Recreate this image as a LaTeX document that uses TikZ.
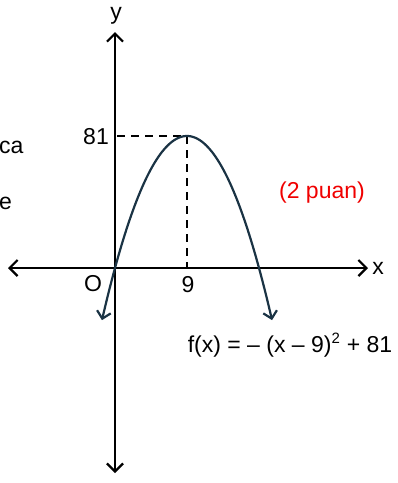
\documentclass[tikz,border=0pt]{standalone}
\usepackage{fontspec}
\setmainfont{Liberation Sans}
\usetikzlibrary{arrows.meta}
\definecolor{curvecol}{HTML}{1A3344}
\definecolor{ptred}{HTML}{F00000}
\begin{document}
\begin{tikzpicture}[x=1pt,y=1pt,
  axis/.style={line width=2.2pt,black,arrows={Straight Barb[length=8pt,width=16pt]-Straight Barb[length=8pt,width=16pt]}},
  guide/.style={line width=1.8pt,dash pattern=on 8pt off 6pt},
  lbl/.style={font=\fontsize{23}{27}\selectfont,inner sep=0pt}]
\useasboundingbox (0,0) rectangle (398,-483);
\coordinate (xl) at (8,-268);
\coordinate (xr) at (368,-268);
\coordinate (yt) at (115,-32);
\coordinate (yb) at (115,-473);
\coordinate (O) at (115,-268);
\coordinate (V) at (187,-136);
\coordinate (Vy) at (117,-136);
\coordinate (Vx) at (187,-268);
\draw[axis] (xl) -- (xr);
\draw[axis] (yb) -- (yt);
\draw[guide] (Vy) -- (V) -- (Vx);
\draw[line width=2.2pt,curvecol,arrows={Straight Barb[length=7pt,width=14pt]-Straight Barb[length=7pt,width=14pt]},
  domain=-1.63:19.63,samples=120,smooth,variable=\u]
  plot ({115+8*\u},{-268+(132/81)*(-(\u-9)*(\u-9)+81)});
\node[lbl,anchor=base] (ylab) at (116,-19) {y};
\node[lbl] (xlab) at (378,-268) {x};
\node[lbl,anchor=east] (l81) at (109,-137) {81};
\node[lbl] (lO) at (93,-284) {O};
\node[lbl] (l9) at (188,-285) {9};
\node[lbl,anchor=west] (ca) at (-1,-147) {ca};
\node[lbl,anchor=west] (e) at (-1,-203) {e};
\node[lbl,text=ptred] (pts) at (322,-193) {(2 puan)};
\node[lbl] (fx) at (290,-345) {f(x) = – (x – 9)\textsuperscript{\fontsize{15}{17}\selectfont 2} + 81};
\end{tikzpicture}
\end{document}
